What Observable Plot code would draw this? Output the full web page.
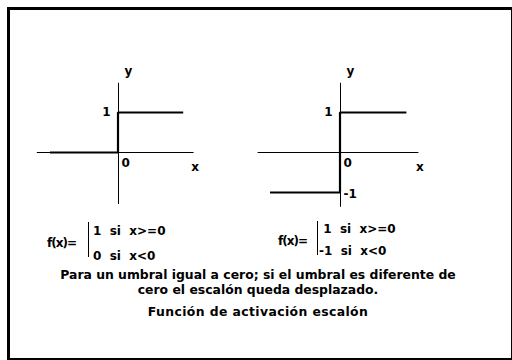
<!DOCTYPE html>
<html>
<head>
<meta charset="utf-8">
<script src="https://cdn.jsdelivr.net/npm/d3@7"></script>
<script src="https://cdn.jsdelivr.net/npm/@observablehq/plot@0.6"></script>
<style>
  html, body { margin: 0; padding: 0; background: #fff; }
  #frame { position: relative; width: 512px; height: 360px; overflow: hidden; background: #fff;
           font-family: "DejaVu Sans", sans-serif; font-weight: bold; font-size: 12px; color: #000; }
  #border { position: absolute; left: 7px; top: 7px; width: 501px; height: 348px;
            border-left: 3px solid #000; border-top: 3px solid #000;
            border-right: 2px solid #000; border-bottom: 2px solid #000; }
  #plot { position: absolute; left: 0; top: 0; }
  .formula { position: absolute; line-height: 14px; }
  .formula.lhs { white-space: nowrap; letter-spacing: -1px; }
  .formula.bar { border-left: 1px solid #000; width: 0; }
  .formula.case { white-space: pre; }
  .caption { position: absolute; left: 8px; width: 500px; text-align: center; white-space: nowrap;
             line-height: 14px; font-size: 12.4px; }
  .caption.title { letter-spacing: 0.4px; }
</style>
</head>
<body>
<div id="frame">
  <div id="border"></div>
  <div id="plot"></div>
</div>
<script>
// Two step functions: the unit step (0 / 1) and the bipolar step (-1 / 1)
const panels = ["escalon", "bipolar"];
const lowValues = [0, -1];        // f(x) for x < 0
const highValues = [1, 1];        // f(x) for x >= 0
const stepStart = [-1.7, -1.75];  // left end of the drawn step
const stepEnd = [1.63, 1.66];     // right end of the drawn step
const axisXMin = [-2.03, -2.06];
const axisXMax = [1.89, 1.96];
const axisYMin = [-1.3, -1.37];
const axisYMax = [1.73, 1.73];

// Formula and caption text
const formulaLhs = "f(x)=";
const caseHigh = ["1  si  x>=0", " 1  si  x>=0"];
const caseLow = ["0  si  x<0", "-1  si  x<0"];
const captionLines = [
  "Para un umbral igual a cero; si el umbral es diferente de",
  "cero el escalón queda desplazado."
];
const title = "Función de activación escalón";

// Build the step polylines and axis segments per panel
const stepPoints = panels.flatMap((p, i) => [
  {panel: p, x: stepStart[i], y: lowValues[i]},
  {panel: p, x: 0, y: lowValues[i]},
  {panel: p, x: 0, y: highValues[i]},
  {panel: p, x: stepEnd[i], y: highValues[i]}
]);
const axes = panels.map((p, i) => ({
  panel: p, x1: axisXMin[i], x2: axisXMax[i], y1: axisYMin[i], y2: axisYMax[i]
}));
const tickLabels = panels.flatMap((p, i) => {
  const out = [
    {panel: p, x: 0, y: highValues[i], text: String(highValues[i]), kind: "high"},
    {panel: p, x: 0, y: 0, text: "0", kind: "zero"}
  ];
  if (lowValues[i] !== 0) out.push({panel: p, x: 0, y: lowValues[i], text: String(lowValues[i]), kind: "low"});
  return out;
});

const font = {fontFamily: "DejaVu Sans, sans-serif", fontWeight: "bold", fontSize: 12};

const chart = Plot.plot({
  width: 512,
  height: 212,
  marginLeft: 7,
  marginRight: 61,
  marginTop: 0,
  marginBottom: 0,
  fx: {domain: panels, padding: 0, axis: null},
  x: {domain: [-2.775, 2.775], axis: null},
  y: {domain: [-1.5, 3.8], axis: null},
  style: {background: "transparent", overflow: "visible"},
  marks: [
    // coordinate axes
    Plot.ruleY(axes, {fx: "panel", y: 0, x1: "x1", x2: "x2", stroke: "#000", strokeWidth: 1}),
    Plot.ruleX(axes, {fx: "panel", x: 0, y1: "y1", y2: "y2", stroke: "#000", strokeWidth: 1}),
    // the step function
    Plot.line(stepPoints, {fx: "panel", x: "x", y: "y", z: "panel", stroke: "#000", strokeWidth: 2.2,
                           strokeLinejoin: "miter", strokeLinecap: "butt", dx: -0.5}),
    // tick values along the vertical axis
    Plot.text(tickLabels.filter(d => d.kind === "high"), {fx: "panel", x: "x", y: "y", text: "text",
      textAnchor: "end", dx: -8, ...font}),
    Plot.text(tickLabels.filter(d => d.kind === "zero"), {fx: "panel", x: "x", y: "y", text: "text",
      textAnchor: "start", dx: 3, dy: 11, ...font}),
    Plot.text(tickLabels.filter(d => d.kind === "low"), {fx: "panel", x: "x", y: "y", text: "text",
      textAnchor: "start", dx: 3, dy: 2, ...font}),
    // axis names
    Plot.text(axes, {fx: "panel", x: "x2", y: 0, text: () => "x", dx: 1, dy: 15, ...font}),
    Plot.text(axes, {fx: "panel", x: 0, y: "y2", text: () => "y", dx: 10, dy: -12, ...font})
  ]
});
document.getElementById("plot").appendChild(chart);

// Piecewise definitions under each graph
const frame = document.getElementById("frame");
const formulaLayout = [
  {lhsLeft: 47, lhsTop: 236, barLeft: 88, barTop: 222, barHeight: 35, caseLeft: 93, highTop: 224, lowTop: 249},
  {lhsLeft: 278, lhsTop: 234, barLeft: 317, barTop: 221, barHeight: 34, caseLeft: 319, highTop: 222, lowTop: 244}
];
panels.forEach((p, i) => {
  const L = formulaLayout[i];
  const lhs = document.createElement("div");
  lhs.className = "formula lhs";
  lhs.style.left = L.lhsLeft + "px"; lhs.style.top = L.lhsTop + "px";
  lhs.textContent = formulaLhs;
  const bar = document.createElement("div");
  bar.className = "formula bar";
  bar.style.left = L.barLeft + "px"; bar.style.top = L.barTop + "px"; bar.style.height = L.barHeight + "px";
  const hi = document.createElement("div");
  hi.className = "formula case";
  hi.style.left = L.caseLeft + "px"; hi.style.top = L.highTop + "px";
  hi.textContent = caseHigh[i];
  const lo = document.createElement("div");
  lo.className = "formula case";
  lo.style.left = L.caseLeft + "px"; lo.style.top = L.lowTop + "px";
  lo.textContent = caseLow[i];
  [lhs, bar, hi, lo].forEach(el => frame.appendChild(el));
});

// Explanatory note and title
const captionTops = [268, 283];
captionLines.forEach((line, i) => {
  const el = document.createElement("div");
  el.className = "caption";
  el.style.top = captionTops[i] + "px";
  el.textContent = line;
  frame.appendChild(el);
});
const t = document.createElement("div");
t.className = "caption title";
t.style.top = "305px";
t.textContent = title;
frame.appendChild(t);
</script>
</body>
</html>
